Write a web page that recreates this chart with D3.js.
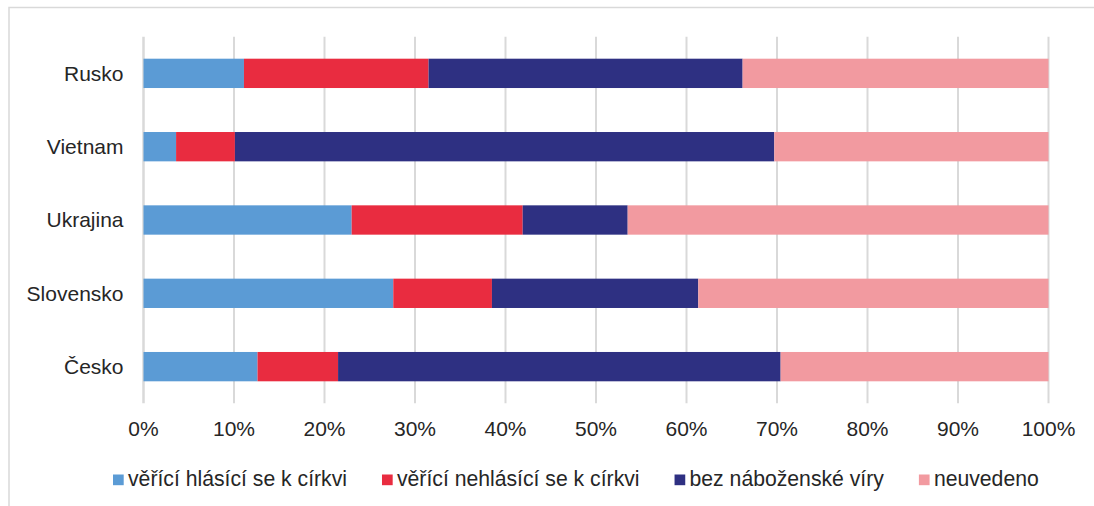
<!DOCTYPE html>
<html>
  <head>
    <meta charset="UTF-8" />
    <style>
      body {
        margin: 0;
        background: #fff;
      }
      svg {
        display: block;
        font-family: "Liberation Sans", Arial, sans-serif;
      }
    </style>
  </head>
  <body>
    <svg></svg>

    <script src="https://d3js.org/d3.v7.min.js"></script>

    <script>
      const width = 1094,
        height = 506;

      // data (shares in %)
      const countries = ["Rusko", "Vietnam", "Ukrajina", "Slovensko", "Česko"];
      const seriesNames = [
        "věřící hlásící se k církvi",
        "věřící nehlásící se k církvi",
        "bez náboženské víry",
        "neuvedeno",
      ];
      const hlasici = [11.1, 3.6, 23.0, 27.6, 12.6];
      const nehlasici = [20.4, 6.5, 18.9, 10.9, 8.9];
      const bezViry = [34.7, 59.6, 11.6, 22.8, 48.9];
      const neuvedeno = [33.8, 30.3, 46.5, 38.7, 29.6];
      const colors = ["#5b9bd5", "#e92c40", "#2e3082", "#f29aa0"];
      const ticks = [0, 10, 20, 30, 40, 50, 60, 70, 80, 90, 100];

      const rows = countries.map((c, i) => ({
        country: c,
        s0: hlasici[i],
        s1: nehlasici[i],
        s2: bezViry[i],
        s3: neuvedeno[i],
      }));

      const svg = d3
        .select("svg")
        .attr("width", width)
        .attr("height", height);

      // chart frame (runs off the picture on right and bottom)
      svg
        .append("rect")
        .attr("x", 9)
        .attr("y", 7.5)
        .attr("width", width + 20)
        .attr("height", height + 20)
        .attr("fill", "none")
        .attr("stroke", "#d9d9d9")
        .attr("stroke-width", 1.5);

      const x = d3.scaleLinear().domain([0, 100]).range([143.5, 1048.5]);
      const y = d3
        .scaleBand()
        .domain(countries)
        .range([36.7, 403.3])
        .paddingInner(0.6)
        .paddingOuter(0.3);

      // gridlines
      svg
        .append("g")
        .selectAll("line")
        .data(ticks)
        .join("line")
        .attr("x1", (d) => x(d))
        .attr("x2", (d) => x(d))
        .attr("y1", 36.7)
        .attr("y2", 403.3)
        .attr("stroke", "#d9d9d9")
        .attr("stroke-width", (d) => (d === 0 ? 2.5 : 2));

      // stacked bars
      const keys = ["s0", "s1", "s2", "s3"];
      const stacked = d3.stack().keys(keys)(rows);

      svg
        .append("g")
        .selectAll("g")
        .data(stacked)
        .join("g")
        .attr("fill", (d, i) => colors[i])
        .selectAll("rect")
        .data((d) => d)
        .join("rect")
        .attr("x", (d) => x(d[0]))
        .attr("width", (d) => x(d[1]) - x(d[0]))
        .attr("y", (d) => y(d.data.country))
        .attr("height", y.bandwidth());

      // category labels
      svg
        .append("g")
        .selectAll("text")
        .data(countries)
        .join("text")
        .attr("x", 123.5)
        .attr("y", (d) => y(d) + y.bandwidth() / 2)
        .attr("dy", "0.35em")
        .attr("text-anchor", "end")
        .attr("font-size", "21px")
        .attr("fill", "#262626")
        .text((d) => d);

      // x axis labels
      svg
        .append("g")
        .selectAll("text")
        .data(ticks)
        .join("text")
        .attr("x", (d) => x(d))
        .attr("y", 436)
        .attr("text-anchor", "middle")
        .attr("font-size", "21px")
        .attr("fill", "#262626")
        .text((d) => d + "%");

      // legend
      const legend = svg.append("g").attr("transform", "translate(113,0)");
      let lx = 0;
      seriesNames.forEach((name, i) => {
        const item = legend.append("g").attr("transform", "translate(" + lx + ",0)");
        item
          .append("rect")
          .attr("x", 0)
          .attr("y", 474.5)
          .attr("width", 10.7)
          .attr("height", 10.7)
          .attr("fill", colors[i]);
        const t = item
          .append("text")
          .attr("x", 15)
          .attr("y", 486)
          .attr("font-size", "21.2px")
          .attr("fill", "#262626")
          .text(name);
        lx += 15 + t.node().getComputedTextLength() + 35;
      });
    </script>
  </body>
</html>
